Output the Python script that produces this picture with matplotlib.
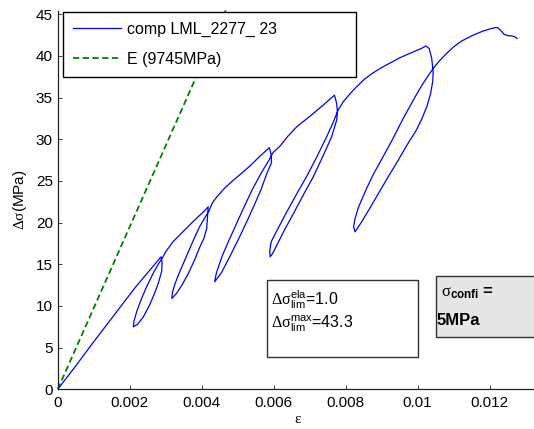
import matplotlib
matplotlib.use('Agg')
import matplotlib.pyplot as plt
from matplotlib.patches import Rectangle

# ---------------- data ----------------
strain = [
    0.0, 0.0005, 0.0010, 0.0016, 0.00215, 0.0025, 0.00287,
    # loop 1 unload / reload
    0.00290, 0.00289, 0.00280, 0.00268, 0.00254, 0.00238, 0.00222, 0.00210,
    0.00212, 0.00220, 0.00233, 0.00249, 0.00265, 0.00279, 0.00290,
    # envelope
    0.00300, 0.00320, 0.00350, 0.00380, 0.00405, 0.00418,
    # loop 2
    0.00416, 0.00414, 0.00406, 0.00395, 0.00380, 0.00363, 0.00345, 0.00330, 0.00317,
    0.00319, 0.00327, 0.00340, 0.00358, 0.00377, 0.00394, 0.00409, 0.00420,
    # envelope
    0.00430, 0.00442, 0.00465, 0.00488, 0.00510, 0.00534, 0.00560, 0.00588,
    # loop 3
    0.00593, 0.00594, 0.00582, 0.00565, 0.00545, 0.00524, 0.00502, 0.00479, 0.00455, 0.00436,
    0.00441, 0.00457, 0.00477, 0.00498, 0.00519, 0.00541, 0.00566, 0.00587, 0.00598,
    # envelope
    0.00618, 0.00640, 0.00664, 0.00690, 0.00710, 0.00740, 0.00769,
    # loop 4
    0.00775, 0.00777, 0.00775, 0.00761, 0.00736, 0.00710, 0.00682, 0.00655, 0.00631, 0.00610, 0.00597, 0.00590,
    0.00589, 0.00593, 0.00612, 0.00634, 0.00662, 0.00691, 0.00720, 0.00747, 0.00765, 0.00779,
    # envelope
    0.00793, 0.00821, 0.00849, 0.00870, 0.00895, 0.00925, 0.00951, 0.00988, 0.01010, 0.01023,
    # loop 5
    0.01032, 0.01039, 0.01043, 0.01042, 0.01036, 0.01026, 0.01012, 0.00995, 0.00973,
    0.00946, 0.00918, 0.00891, 0.00864, 0.00843, 0.00826,
    0.00822, 0.00826, 0.00836, 0.00857, 0.00878, 0.00900, 0.00929, 0.00961, 0.00993,
    0.01012, 0.01027, 0.01043,
    # final envelope
    0.01060, 0.01080, 0.01100, 0.01122, 0.01154, 0.01182, 0.01205, 0.01215, 0.01222,
    0.01230, 0.01240, 0.01250, 0.01262, 0.01270, 0.01276,
]
stress = [
    0.0, 2.8, 5.7, 9.1, 12.2, 14.0, 15.9,
    15.2, 14.2, 12.8, 11.4, 10.0, 8.7, 7.8, 7.5,
    8.2, 9.4, 10.9, 12.5, 13.9, 15.0, 15.7,
    16.5, 17.7, 19.0, 20.3, 21.3, 21.9,
    20.5, 19.3, 18.1, 17.1, 15.5, 13.9, 12.5, 11.5, 10.9,
    11.7, 12.8, 14.2, 16.0, 17.9, 19.5, 20.6, 21.4,
    22.4, 23.1, 24.2, 25.1, 25.9, 26.8, 27.9, 29.0,
    28.2, 27.2, 26.0, 24.0, 22.0, 20.0, 18.0, 16.0, 14.0, 12.9,
    14.0, 16.0, 18.0, 20.0, 22.0, 24.0, 26.0, 27.5, 28.4,
    29.2, 30.4, 31.5, 32.4, 33.1, 34.2, 35.3,
    34.3, 33.3, 32.3, 30.3, 27.9, 25.5, 23.3, 21.1, 19.2, 17.4, 16.3, 15.9,
    16.6, 17.7, 19.3, 21.1, 23.3, 25.5, 27.9, 30.3, 32.0, 33.5,
    34.5, 35.9, 37.1, 37.8, 38.5, 39.2, 39.8, 40.5, 40.9, 41.2,
    40.9, 39.7, 38.1, 37.0, 35.5, 34.0, 32.5, 31.0, 29.5,
    27.5, 25.5, 23.5, 21.5, 20.0, 18.9,
    19.5, 20.5, 21.9, 24.0, 25.9, 27.6, 29.9, 32.6, 35.1,
    36.5, 37.5, 38.5,
    39.4, 40.3, 41.1, 41.8, 42.5, 43.0, 43.3, 43.4, 43.4,
    43.1, 42.6, 42.45, 42.4, 42.3, 42.1,
]
e_strain = [0.0, 0.00468]
e_stress = [0.0, 45.6]

x_ticks = [0, 0.002, 0.004, 0.006, 0.008, 0.010, 0.012]
x_tick_labels = ['0', '0.002', '0.004', '0.006', '0.008', '0.01', '0.012']
y_ticks = [0, 5, 10, 15, 20, 25, 30, 35, 40, 45]
y_tick_labels = ['0', '5', '10', '15', '20', '25', '30', '35', '40', '45']
legend_labels = ['comp LML_2277_ 23', 'E (9745MPa)']
info_lines = [r'$\mathrm{\Delta\sigma}^{\mathsf{ela}}_{\mathsf{lim}}$=1.0',
              r'$\mathrm{\Delta\sigma}^{\mathsf{max}}_{\mathsf{lim}}$=43.3']
confi_lines = [r'$\mathrm{\sigma}_{\mathbf{confi}}$ =', '5MPa']

# ---------------- style ----------------
plt.rcParams['font.family'] = ['Liberation Sans', 'DejaVu Sans']
plt.rcParams['mathtext.fontset'] = 'custom'
plt.rcParams['mathtext.rm'] = 'Liberation Serif'
plt.rcParams['mathtext.it'] = 'Liberation Serif:italic'
plt.rcParams['mathtext.bf'] = 'Liberation Sans:bold'
plt.rcParams['mathtext.sf'] = 'Liberation Sans'
plt.rcParams['lines.scale_dashes'] = False

W, H = 534, 429
fig = plt.figure(figsize=(W / 100, H / 100), dpi=100)

def fx(px):
    return px / W

def fy(py):
    return 1 - py / H

ax_left, ax_right, ax_bottom, ax_top = 57.7, 537.9, 389.3, 11.0
ax = fig.add_axes([fx(ax_left), fy(ax_bottom), fx(ax_right - ax_left), (ax_bottom - ax_top) / H])
ax.set_xlim(0, 0.01334)
ax.set_ylim(0, 45.4)

ax.plot(strain, stress, color='#0000ff', lw=0.9, label=legend_labels[0], zorder=3)
ax.plot(e_strain, e_stress, color='#008000', lw=1.3, linestyle=(0, (4.5, 2.5)),
        label=legend_labels[1], clip_on=False, zorder=2)

for s in ['top', 'right']:
    ax.spines[s].set_visible(False)
for s in ['left', 'bottom']:
    ax.spines[s].set_linewidth(0.9)
    ax.spines[s].set_color('#222222')

ax.set_xticks(x_ticks)
ax.set_xticklabels(x_tick_labels)
ax.set_yticks(y_ticks)
ax.set_yticklabels(y_tick_labels)
ax.tick_params(direction='in', length=3.0, width=0.6, labelsize=11, colors='#222222',
               labelcolor='black')
ax.tick_params(axis='x', pad=5)
ax.tick_params(axis='y', pad=3.5)

ax.set_xlabel('ε', family='Liberation Serif', fontsize=11, labelpad=2)
ax.set_ylabel(r'$\mathrm{\Delta\sigma}$(MPa)', fontsize=11, labelpad=5)

leg = ax.legend(loc='upper left',
                bbox_to_anchor=(fx(62.7), fy(78.3), fx(355.7 - 62.7), (78.3 - 11.7) / H),
                bbox_transform=fig.transFigure, mode='expand', borderaxespad=0,
                fontsize=11.5, handlelength=3.0, handletextpad=0.4, borderpad=0.65,
                labelspacing=0.9, fancybox=False, framealpha=1, edgecolor='black')
leg.get_frame().set_linewidth(1.0)
leg.set_zorder(5)

# info box
fig.patches.append(Rectangle((fx(266.7), fy(356.7)), fx(418.3 - 266.7), (356.7 - 280) / H,
                             transform=fig.transFigure, facecolor='white',
                             edgecolor='#333333', lw=1.0, zorder=4))
fig.text(fx(271), fy(305), info_lines[0], fontsize=11.5, va='baseline', zorder=6)
fig.text(fx(271), fy(328), info_lines[1], fontsize=11.5, va='baseline', zorder=6)

# confinement box
fig.patches.append(Rectangle((fx(435.7), fy(336.7)), fx(540 - 435.7), (336.7 - 276) / H,
                             transform=fig.transFigure, facecolor='#e6e6e6',
                             edgecolor='#333333', lw=1.0, zorder=4))
fig.text(fx(441), fy(297), confi_lines[0], fontsize=12, fontweight='bold', va='baseline', zorder=6)
fig.text(fx(437), fy(325), confi_lines[1], fontsize=12, fontweight='bold', va='baseline', zorder=6)

fig.savefig('out.png', dpi=100)
